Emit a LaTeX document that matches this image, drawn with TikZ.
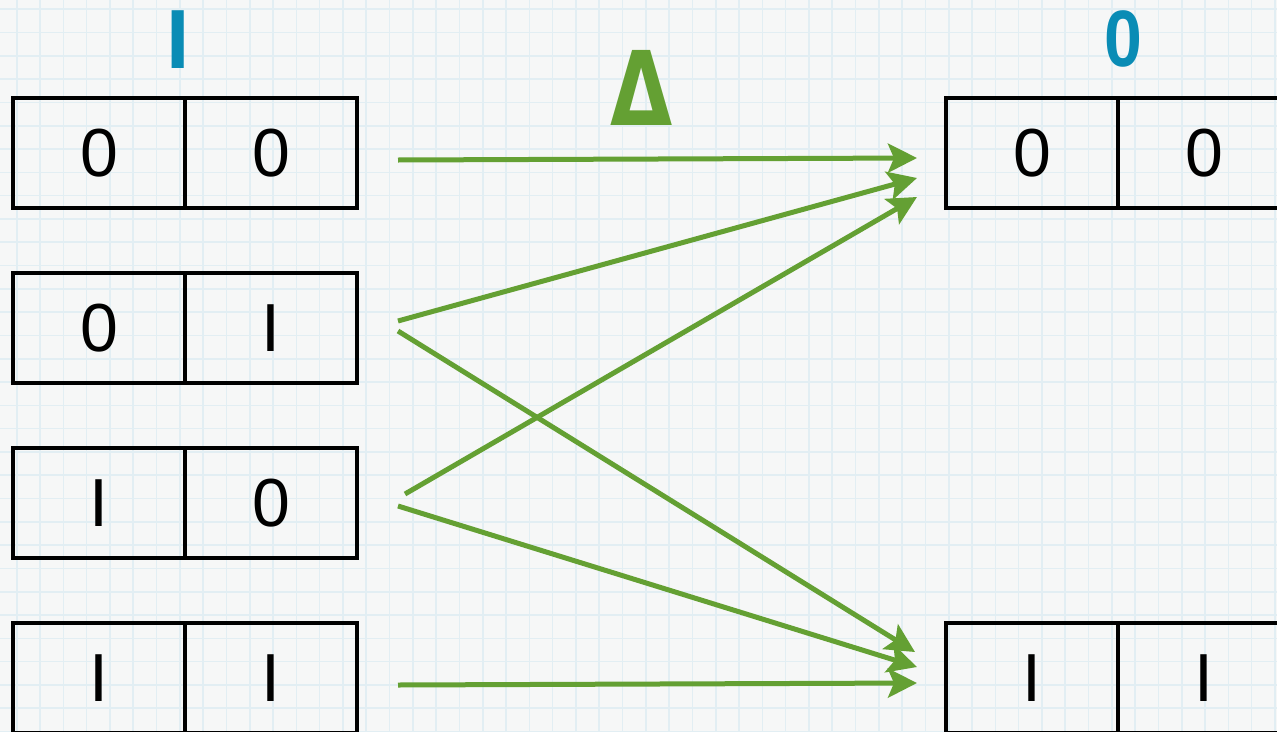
\documentclass[tikz,border=0pt]{standalone}
\usepackage{fontspec}
\setmainfont{Liberation Sans}
\newfontfamily\djv{DejaVu Sans}
\usetikzlibrary{arrows.meta}
\definecolor{gridblue}{HTML}{E2EEF3}
\definecolor{arrgreen}{HTML}{64A033}
\definecolor{labblue}{HTML}{0A8CB5}
\definecolor{paper}{HTML}{F6F7F7}
\tikzset{
  gridline/.style={gridblue, line width=1.6pt},
  cell/.style={draw=black, line width=3.6pt, rectangle, minimum width=172pt, minimum height=110pt,
    inner sep=0pt, font=\fontsize{68}{68}\selectfont},
  conn/.style={draw=arrgreen, line width=5pt, -{Stealth[length=29pt,width=29pt,inset=6pt]}},
  toplabel/.style={inner sep=0pt, font=\bfseries\fontsize{84}{84}\selectfont}
}
\begin{document}
\begin{tikzpicture}[x=1pt,y=-1pt]
\fill[paper] (0,0) rectangle (1277,731);
\useasboundingbox (0,0) rectangle (1277,731);
\foreach \i in {0,...,55} \draw[gridline] ({16.7+23.3*\i},0) -- ({16.7+23.3*\i},731);
\foreach \j in {0,...,31} \draw[gridline] (0,{9.2+23.3*\j}) -- (1277,{9.2+23.3*\j});

% left boxes
\node[cell] (l1a) at (99,153) {0};
\node[cell] (l1b) at (271,153) {0};
\node[cell] (l2a) at (99,328) {0};
\node[cell] (l2b) at (271,328) {I};
\node[cell] (l3a) at (99,503) {I};
\node[cell] (l3b) at (271,503) {0};
\node[cell] (l4a) at (99,678) {I};
\node[cell] (l4b) at (271,678) {I};
% right boxes
\node[cell] (r1a) at (1032,153) {0};
\node[cell] (r1b) at (1204,153) {0};
\node[cell] (r2a) at (1032,678) {I};
\node[cell] (r2b) at (1204,678) {I};

% top labels
\node[toplabel, text=labblue] (lin) at (178,40) {I};
\node[inner sep=0pt, text=labblue, font=\bfseries\fontsize{80}{80}\selectfont] (lout) at (1123,39) {\scalebox{0.85}[1]{0}};
\node[inner sep=0pt, text=arrgreen, font=\djv\bfseries\fontsize{103}{103}\selectfont] (ldelta) at (642,88) {\scalebox{0.78}[1]{Δ}};

% connector end points
\coordinate (s1) at (398,160);
\coordinate (s2) at (398,321);
\coordinate (s3) at (405,494);
\coordinate (s4) at (398,331);
\coordinate (s5) at (398,506);
\coordinate (s6) at (398,685);
\coordinate (t1) at (917,158);
\coordinate (t2) at (917,178);
\coordinate (t3) at (917,197);
\coordinate (t4) at (915,652);
\coordinate (t5) at (917,667);
\coordinate (t6) at (917,683);

\draw[conn] (s1) -- (t1);
\draw[conn] (s2) -- (t2);
\draw[conn] (s3) -- (t3);
\draw[conn] (s4) -- (t4);
\draw[conn] (s5) -- (t5);
\draw[conn] (s6) -- (t6);
\end{tikzpicture}
\end{document}
